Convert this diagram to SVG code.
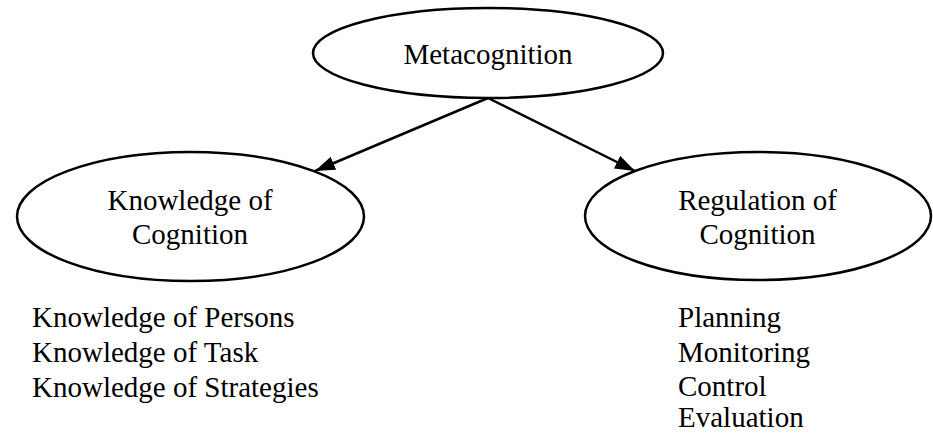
<svg xmlns="http://www.w3.org/2000/svg" width="933" height="434" viewBox="0 0 933 434">
<style>
  .node { fill: #ffffff; stroke: #000000; stroke-width: 2.5; }
  .t { font-family: "Liberation Serif", "Times New Roman", serif; font-size: 29px; fill: #000000; }
  .c { text-anchor: middle; }
  .edge { stroke: #000000; stroke-width: 2.5; fill: none; }
</style>
<defs>
  <marker id="arrow" viewBox="0 0 20 14" refX="20" refY="7" markerWidth="20" markerHeight="14" markerUnits="userSpaceOnUse" orient="auto">
    <path d="M0,0 L20,7 L0,14 Z" fill="#000000"/>
  </marker>
</defs>
<rect width="933" height="434" fill="#ffffff"/>
<g id="connectors">
  <line class="edge" x1="488" y1="98" x2="315" y2="171" marker-end="url(#arrow)"/>
  <line class="edge" x1="488" y1="98" x2="635" y2="171" marker-end="url(#arrow)"/>
</g>
<g id="metacognition">
  <ellipse class="node" cx="488" cy="53" rx="175" ry="45"/>
  <text class="t c" x="488" y="64">Metacognition</text>
</g>
<g id="knowledge">
  <ellipse class="node" cx="190.5" cy="216.5" rx="173.5" ry="64.5"/>
  <text class="t c" x="190" y="210">Knowledge of</text>
  <text class="t c" x="190" y="244">Cognition</text>
</g>
<g id="regulation">
  <ellipse class="node" cx="758" cy="216" rx="173" ry="64"/>
  <text class="t c" x="757.5" y="210">Regulation of</text>
  <text class="t c" x="757.5" y="244">Cognition</text>
</g>
<g id="knowledge-list">
  <text class="t" x="32" y="327">Knowledge of Persons</text>
  <text class="t" x="32" y="362">Knowledge of Task</text>
  <text class="t" x="32" y="397">Knowledge of Strategies</text>
</g>
<g id="regulation-list">
  <text class="t" x="678" y="327">Planning</text>
  <text class="t" x="678" y="361.5">Monitoring</text>
  <text class="t" x="678" y="395.5">Control</text>
  <text class="t" x="678" y="427">Evaluation</text>
</g>
</svg>
